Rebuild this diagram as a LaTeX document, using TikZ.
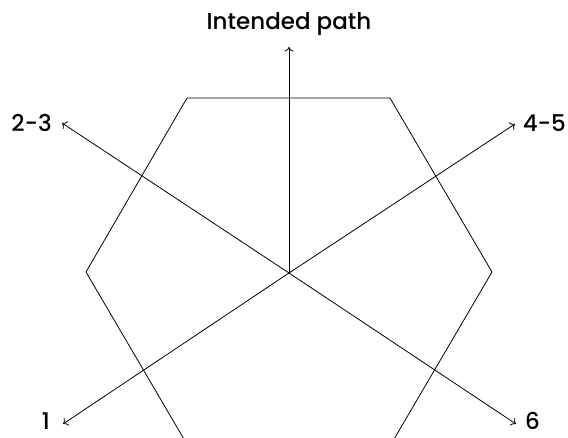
\documentclass[tikz,border=0pt]{standalone}
\usetikzlibrary{arrows.meta}
\usepackage{fontspec}
\setmainfont{Poppins}[UprightFont={Poppins Medium}]
\begin{document}
\begin{tikzpicture}[x=1pt,y=-1pt,
  lbl/.style={font=\fontsize{23}{28}\selectfont, inner sep=0pt},
  ray/.style={-{To[length=4.5pt,width=9pt]}, line width=0.8pt},
  hexline/.style={line width=0.8pt}]
\useasboundingbox (0,0) rectangle (568,438);
\begin{scope}
\clip (0,0) rectangle (568,438);
% hexagon (bottom clipped by frame)
\draw[hexline] (188,446) -- (86,272) -- (187,98) -- (390,98) -- (492,272) -- (390,446);
\end{scope}
\coordinate (c) at (289,273);
\coordinate (up) at (289,47);
\coordinate (t23) at (62,123);
\coordinate (t45) at (515,124);
\coordinate (t1) at (63,424);
\coordinate (t6) at (516,424);
\draw[ray] (c) -- (up);
\draw[ray] (c) -- (t23);
\draw[ray] (c) -- (t45);
\draw[ray] (c) -- (t1);
\draw[ray] (c) -- (t6);
\node[lbl, anchor=base] (lup) at (289,30) {Intended path};
\node[lbl, anchor=base east] (l23) at (52,132) {2-3};
\node[lbl, anchor=base east] (l45) at (566,132) {4-5};
\node[lbl, anchor=base east] (l1) at (50,430) {1};
\node[lbl, anchor=base west] (l6) at (525,430) {6};
\end{tikzpicture}
\end{document}
